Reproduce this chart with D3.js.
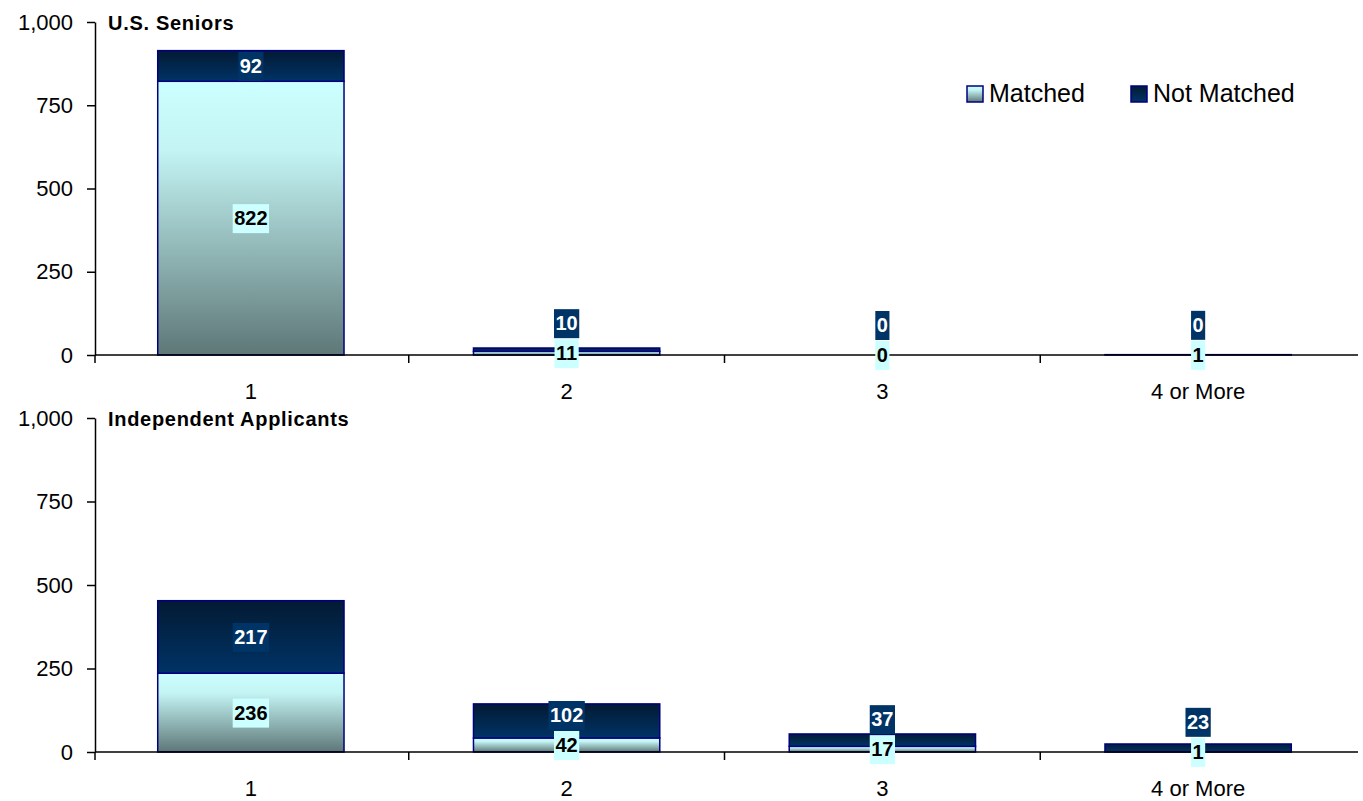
<!DOCTYPE html>
<html>
<head>
<meta charset="utf-8">
<script src="https://cdn.jsdelivr.net/npm/d3@7"></script>
<style>
  body { margin: 0; background: #fff; }
  svg { display: block; font-family: "Liberation Sans", Arial, sans-serif; }
</style>
</head>
<body>
<script>
// chart data
var categories = ["1", "2", "3", "4 or More"];
var seniorsMatched = [822, 11, 0, 1];
var seniorsNotMatched = [92, 10, 0, 0];
var indepMatched = [236, 42, 17, 1];
var indepNotMatched = [217, 102, 37, 23];
var yTicks = [0, 250, 500, 750, 1000];
var seriesNames = ["Matched", "Not Matched"];
var panelTitles = ["U.S. Seniors", "Independent Applicants"];

var W = 1363, H = 801;
var left = 95, right = 1358;

var svg = d3.select("body").append("svg")
  .attr("width", W)
  .attr("height", H);

var defs = svg.append("defs");
var gm = defs.append("linearGradient").attr("id", "gMatched")
  .attr("x1", 0).attr("y1", 0).attr("x2", 0).attr("y2", 1);
gm.append("stop").attr("offset", "0%").attr("stop-color", "#ccffff");
gm.append("stop").attr("offset", "25%").attr("stop-color", "#c4f4f4");
gm.append("stop").attr("offset", "100%").attr("stop-color", "#5e7777");
var gn = defs.append("linearGradient").attr("id", "gNot")
  .attr("x1", 0).attr("y1", 0).attr("x2", 0).attr("y2", 1);
gn.append("stop").attr("offset", "0%").attr("stop-color", "#031a33");
gn.append("stop").attr("offset", "100%").attr("stop-color", "#003366");

var x = d3.scaleBand()
  .domain(categories)
  .range([left - 2, right - 2])
  .paddingInner(0.41)
  .paddingOuter(0.205);

var panels = [
  { title: panelTitles[0], m: seniorsMatched, n: seniorsNotMatched, top: 22, bottom: 355 },
  { title: panelTitles[1], m: indepMatched, n: indepNotMatched, top: 418, bottom: 752 }
];

panels.forEach(function(p) {
  var y = d3.scaleLinear().domain([0, 1000]).range([p.bottom, p.top]);
  var g = svg.append("g");

  // y axis
  var ya = g.append("g")
    .attr("transform", "translate(" + left + ",0)")
    .call(d3.axisLeft(y).tickValues(yTicks).tickFormat(d3.format(",")).tickSize(8).tickSizeOuter(0).tickPadding(14));
  ya.select(".domain").attr("stroke", "#000").attr("stroke-width", 1.5);
  ya.selectAll(".tick line").attr("stroke", "#000").attr("stroke-width", 1.5);
  ya.selectAll("text").attr("font-size", 22).attr("fill", "#000")
    .attr("font-family", "Liberation Sans, Arial, sans-serif");
  // axis continues a little under the baseline
  ya.append("line").attr("x1", 0).attr("x2", 0)
    .attr("y1", y(0)).attr("y2", y(0) + 8)
    .attr("stroke", "#000").attr("stroke-width", 1.5);

  // title
  g.append("text")
    .attr("x", 108).attr("y", p.top + 8)
    .attr("font-size", 20).attr("font-weight", "bold")
    .attr("letter-spacing", 0.7)
    .text(p.title);

  // bars
  categories.forEach(function(c, i) {
    var m = p.m[i], n = p.n[i];
    g.append("rect")
      .attr("x", x(c)).attr("width", x.bandwidth())
      .attr("y", y(m)).attr("height", y(0) - y(m))
      .attr("fill", "url(#gMatched)")
      .attr("stroke", "#000080").attr("stroke-width", 1.5);
    g.append("rect")
      .attr("x", x(c)).attr("width", x.bandwidth())
      .attr("y", y(m + n)).attr("height", y(m) - y(m + n))
      .attr("fill", "url(#gNot)")
      .attr("stroke", "#000080").attr("stroke-width", 1.5);
  });

  // x axis
  var xa = g.append("g")
    .attr("transform", "translate(0," + y(0) + ")")
    .call(d3.axisBottom(x).tickSize(0).tickPadding(28));
  xa.select(".domain").attr("d", "M" + left + ",0H" + right)
    .attr("stroke", "#000").attr("stroke-width", 1.5);
  xa.selectAll("text").attr("font-size", 22).attr("fill", "#000")
    .attr("font-family", "Liberation Sans, Arial, sans-serif");
  categories.slice(1).forEach(function(c) {
    var bx = x(c) - x.step() * x.paddingInner() / 2;
    xa.append("line").attr("x1", bx).attr("x2", bx)
      .attr("y1", 0).attr("y2", 8)
      .attr("stroke", "#000").attr("stroke-width", 1.5);
  });

  // value labels
  function label(val, cy, cx, bg, fg) {
    var t = g.append("text")
      .attr("x", cx).attr("y", cy)
      .attr("text-anchor", "middle").attr("dy", "0.36em")
      .attr("font-size", 20).attr("font-weight", "bold")
      .attr("fill", fg).text(val);
    var bb = t.node().getBBox();
    g.insert("rect", function() { return t.node(); })
      .attr("x", bb.x - 1.5).attr("width", bb.width + 3)
      .attr("y", cy - 14).attr("height", 29)
      .attr("fill", bg);
  }
  categories.forEach(function(c, i) {
    var m = p.m[i], n = p.n[i];
    var cx = x(c) + x.bandwidth() / 2;
    var ym = (y(0) + y(m)) / 2;
    var yn = Math.min((y(m) + y(m + n)) / 2, ym - 30);
    label(n, yn, cx, "#003366", "#fff");
    label(m, ym, cx, "#ccffff", "#000");
  });
});

// legend
var legend = svg.append("g").attr("transform", "translate(967,102)");
var legX = [0, 164];
seriesNames.forEach(function(s, i) {
  var lg = legend.append("g").attr("transform", "translate(" + legX[i] + ",0)");
  lg.append("rect").attr("x", 0).attr("y", -16).attr("width", 16).attr("height", 16)
    .attr("fill", i === 0 ? "url(#gMatched)" : "url(#gNot)")
    .attr("stroke", "#000080").attr("stroke-width", 1.5);
  lg.append("text").attr("x", 22).attr("y", 0)
    .attr("font-size", 25).attr("fill", "#000").text(s);
});
</script>
</body>
</html>
